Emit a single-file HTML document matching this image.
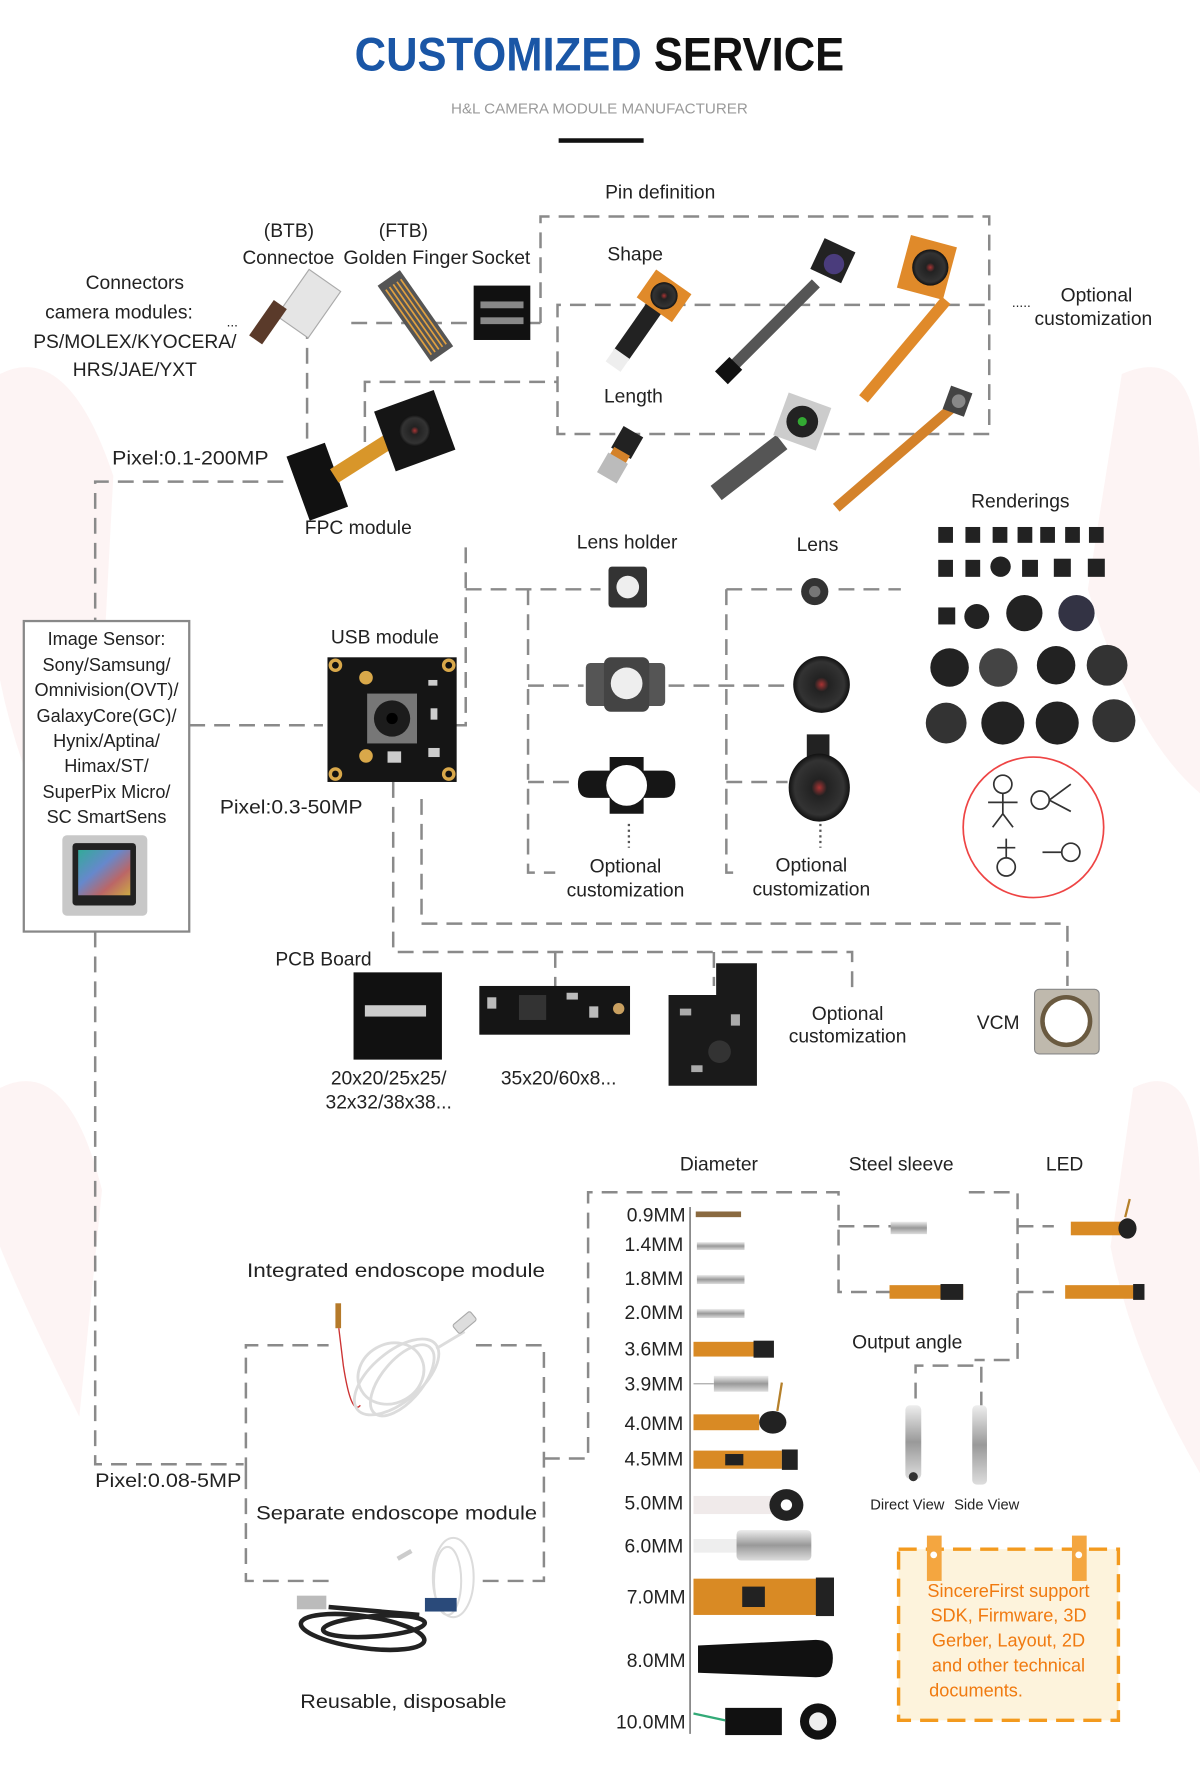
<!DOCTYPE html>
<html><head><meta charset="utf-8"><style>
html,body{margin:0;padding:0;background:#fff;}
svg{display:block;}
text{font-family:"Liberation Sans",sans-serif;fill:#222;}
.d{fill:none;stroke:#8a8a8a;stroke-width:2.2;stroke-dasharray:14 8;}
.s{fill:none;stroke:#8a8a8a;stroke-width:1.6;}
.dot{fill:none;stroke:#555;stroke-width:2;stroke-dasharray:2 3;}
</style></head><body>
<svg width="1200" height="1777" viewBox="0 0 1059 1568" preserveAspectRatio="none" xmlns="http://www.w3.org/2000/svg">
<rect width="1059" height="1568" fill="#fff"/>
<!-- faint background shapes -->
<g fill="#fdf1f1" opacity="0.8">
<path d="M0 330 Q60 300 100 420 L80 800 Q20 700 0 600Z"/>
<path d="M990 330 Q1059 300 1059 420 L1059 700 Q1000 650 960 520Z"/>
<path d="M0 960 Q60 930 90 1050 L70 1250 Q20 1150 0 1100Z"/>
<path d="M1000 960 Q1059 930 1059 1050 L1059 1300 Q1000 1200 980 1100Z"/>
</g>
<!-- title -->
<text x="313" y="62" font-size="42" font-weight="bold" textLength="432" lengthAdjust="spacingAndGlyphs"><tspan fill="#1a56a6" style="fill:#1a56a6">CUSTOMIZED</tspan> <tspan style="fill:#111">SERVICE</tspan></text>
<text x="398" y="100" font-size="13" style="fill:#9a9a9a" textLength="262" lengthAdjust="spacingAndGlyphs">H&amp;L CAMERA MODULE MANUFACTURER</text>
<rect x="493" y="122" width="75" height="4" fill="#111"/>

<!-- dashed connectors -->
<path class="d" d="M477 285 V191 H873 V383 H492 V269 H873"/>
<path class="d" d="M310 285 H477"/>
<path class="d" d="M271 285 V395"/>
<path class="d" d="M322 390 V337 H492"/>
<path class="d" d="M250 425 H84 V548"/>
<path class="d" d="M411 483 V640 H400"/>
<path class="d" d="M167 640 H285"/>
<path class="d" d="M411 520 H530"/>
<path class="d" d="M466 520 V770 H490 M466 605 H515 M466 690 H508"/>
<path class="d" d="M590 605 H700 M641 520 V770 H655 M641 520 H700 M740 520 H795 M641 690 H695"/>
<path class="dot" d="M555 727 V748 M724 727 V748"/>
<path class="d" d="M372 705 V815 H942 V870"/>
<path class="d" d="M347 690 V840 H752 V878 M490 840 V870 M630 840 V870"/>
<path class="d" d="M84 822 V1292 H215"/>
<path class="d" d="M217 1300 V1187 H290 M420 1187 H480 V1395 H420 M290 1395 H217 V1300"/>
<path class="d" d="M480 1287 H519 V1052 H740 V1140 H790 M740 1082 H790 M855 1052 H898 V1200 H860 M898 1082 H930 M898 1140 H930"/>
<path class="d" d="M808 1300 V1205 H866 V1300"/>
<path class="s" d="M609 1065 V1530"/>
<text x="893" y="271" font-size="12">.....</text>

<!-- texts -->
<g font-size="17">
<text x="534" y="175">Pin definition</text>
<text x="255" y="209" text-anchor="middle">(BTB)</text>
<text x="356" y="209" text-anchor="middle">(FTB)</text>
<text x="214" y="233" textLength="81" lengthAdjust="spacingAndGlyphs">Connectoe</text>
<text x="303" y="233" textLength="110" lengthAdjust="spacingAndGlyphs">Golden Finger</text>
<text x="416" y="233" textLength="52" lengthAdjust="spacingAndGlyphs">Socket</text>
<text x="119" y="255" text-anchor="middle">Connectors</text>
<text x="105" y="281" text-anchor="middle">camera modules:</text>
<text x="200" y="288" font-size="12">...</text>
<text x="119" y="307" text-anchor="middle">PS/MOLEX/KYOCERA/</text>
<text x="119" y="332" text-anchor="middle">HRS/JAE/YXT</text>
<text x="536" y="230">Shape</text>
<text x="533" y="355">Length</text>
<text x="936" y="266">Optional</text>
<text x="913" y="287">customization</text>
<text x="99" y="410" textLength="138" lengthAdjust="spacingAndGlyphs">Pixel:0.1-200MP</text>
<text x="269" y="471">FPC module</text>
<text x="857" y="448">Renderings</text>
<text x="509" y="484">Lens holder</text>
<text x="703" y="486">Lens</text>
<text x="292" y="568">USB module</text>
<text x="194" y="718" textLength="126" lengthAdjust="spacingAndGlyphs">Pixel:0.3-50MP</text>
<text x="552" y="770" text-anchor="middle">Optional</text>
<text x="552" y="791" text-anchor="middle">customization</text>
<text x="716" y="769" text-anchor="middle">Optional</text>
<text x="716" y="790" text-anchor="middle">customization</text>
<text x="243" y="852">PCB Board</text>
<text x="343" y="957" text-anchor="middle">20x20/25x25/</text>
<text x="343" y="978" text-anchor="middle">32x32/38x38...</text>
<text x="493" y="957" text-anchor="middle">35x20/60x8...</text>
<text x="748" y="900" text-anchor="middle">Optional</text>
<text x="748" y="920" text-anchor="middle">customization</text>
<text x="862" y="908">VCM</text>
<text x="600" y="1033">Diameter</text>
<text x="749" y="1033">Steel sleeve</text>
<text x="923" y="1033">LED</text>
<text x="218" y="1127" textLength="263" lengthAdjust="spacingAndGlyphs">Integrated endoscope module</text>
<text x="752" y="1190">Output angle</text>
<text x="84" y="1312" textLength="129" lengthAdjust="spacingAndGlyphs">Pixel:0.08-5MP</text>
<text x="226" y="1341" textLength="248" lengthAdjust="spacingAndGlyphs">Separate endoscope module</text>
<text x="265" y="1507" textLength="182" lengthAdjust="spacingAndGlyphs">Reusable, disposable</text>
</g>
<g font-size="13"><text x="768" y="1332">Direct View</text><text x="842" y="1332">Side View</text></g>
<g font-size="17" text-anchor="end">
<text x="605" y="1078">0.9MM</text><text x="603" y="1104">1.4MM</text><text x="603" y="1134">1.8MM</text><text x="603" y="1164">2.0MM</text>
<text x="603" y="1196">3.6MM</text><text x="603" y="1227">3.9MM</text><text x="603" y="1262">4.0MM</text><text x="603" y="1293">4.5MM</text>
<text x="603" y="1332">5.0MM</text><text x="603" y="1370">6.0MM</text><text x="605" y="1415">7.0MM</text><text x="605" y="1471">8.0MM</text><text x="605" y="1525">10.0MM</text>
</g>

<!-- image sensor box -->
<rect x="21" y="548" width="146" height="274" fill="#fff" stroke="#888" stroke-width="2"/>
<g font-size="16" text-anchor="middle">
<text x="94" y="569">Image Sensor:</text><text x="94" y="592">Sony/Samsung/</text><text x="94" y="614">Omnivision(OVT)/</text><text x="94" y="637">GalaxyCore(GC)/</text>
<text x="94" y="659">Hynix/Aptina/</text><text x="94" y="681">Himax/ST/</text><text x="94" y="704">SuperPix Micro/</text><text x="94" y="726">SC SmartSens</text>
</g>
<defs>
<linearGradient id="rb" x1="0" y1="0" x2="1" y2="1"><stop offset="0" stop-color="#3a9"/><stop offset=".4" stop-color="#68c"/><stop offset=".7" stop-color="#b66"/><stop offset="1" stop-color="#ca4"/></linearGradient>
<radialGradient id="ln"><stop offset="0" stop-color="#a33"/><stop offset=".25" stop-color="#222"/><stop offset=".8" stop-color="#333"/><stop offset="1" stop-color="#111"/></radialGradient>
<linearGradient id="mt" x1="0" y1="0" x2="0" y2="1"><stop offset="0" stop-color="#eee"/><stop offset=".5" stop-color="#999"/><stop offset="1" stop-color="#ddd"/></linearGradient>
</defs>
<rect x="55" y="737" width="75" height="71" rx="4" fill="#c8c8c8"/>
<rect x="64" y="744" width="56" height="55" rx="3" fill="#222"/>
<rect x="69" y="750" width="46" height="40" fill="url(#rb)"/>

<!-- connectors photos -->
<g transform="rotate(35 265 275)"><rect x="250" y="240" width="34" height="50" fill="#e5e5e5" stroke="#aaa"/><rect x="240" y="280" width="14" height="38" fill="#5a3a2a"/></g>
<g transform="rotate(-35 366 278)"><rect x="354" y="238" width="24" height="82" fill="#555"/><path d="M358 245 V315 M362 245 V315 M366 245 V315 M370 245 V315 M374 245 V315" stroke="#e0a040" stroke-width="1.5"/></g>
<rect x="418" y="252" width="50" height="48" fill="#111"/><rect x="424" y="266" width="38" height="6" fill="#888"/><rect x="424" y="280" width="38" height="6" fill="#888"/>

<!-- pin def cameras -->
<g transform="rotate(35 568 285)"><rect x="560" y="260" width="16" height="60" fill="#222"/><rect x="550" y="240" width="38" height="30" fill="#e08a2a"/><circle cx="569" cy="255" r="12" fill="url(#ln)"/><rect x="560" y="318" width="16" height="14" fill="#eee"/></g>
<path d="M640 330 L720 250" stroke="#555" stroke-width="10"/><rect x="635" y="318" width="16" height="18" fill="#111" transform="rotate(45 643 327)"/>
<rect x="720" y="215" width="30" height="30" fill="#222" transform="rotate(25 735 230)"/><circle cx="736" cy="233" r="9" fill="#4a3c7c"/>
<path d="M762 352 L835 265" stroke="#e08a2a" stroke-width="10"/>
<rect x="797" y="212" width="42" height="48" fill="#e08a2a" transform="rotate(15 818 236)"/><circle cx="821" cy="236" r="16" fill="url(#ln)"/>
<g transform="rotate(30 548 400)"><rect x="538" y="378" width="20" height="22" fill="#222"/><rect x="540" y="398" width="16" height="8" fill="#d4822a"/><rect x="538" y="405" width="20" height="20" fill="#bbb"/></g>
<path d="M632 435 L690 390" stroke="#555" stroke-width="16"/>
<rect x="688" y="352" width="40" height="40" fill="#ccc" transform="rotate(20 708 372)"/><circle cx="708" cy="372" r="14" fill="#222"/><circle cx="708" cy="372" r="4" fill="#3a3"/>
<path d="M738 448 L840 360" stroke="#d4822a" stroke-width="9"/><rect x="835" y="343" width="20" height="22" fill="#444" transform="rotate(20 845 354)"/><circle cx="846" cy="354" r="6" fill="#888"/>

<!-- FPC module -->
<rect x="262" y="395" width="36" height="60" fill="#111" transform="rotate(-20 280 425)"/>
<path d="M295 420 L350 385" stroke="#d8962a" stroke-width="14"/>
<rect x="338" y="352" width="56" height="56" fill="#151515" transform="rotate(-20 366 380)"/><circle cx="366" cy="380" r="14" fill="url(#ln)"/>

<!-- renderings -->
<g fill="#222">
<rect x="828" y="465" width="13" height="14"/><rect x="852" y="465" width="13" height="14"/><rect x="876" y="465" width="13" height="14"/><rect x="898" y="465" width="13" height="14"/><rect x="918" y="465" width="13" height="14"/><rect x="940" y="465" width="13" height="14"/><rect x="961" y="465" width="13" height="14"/>
<rect x="828" y="494" width="13" height="15"/><rect x="852" y="494" width="13" height="15"/><circle cx="883" cy="500" r="9"/><rect x="902" y="494" width="14" height="15"/><rect x="930" y="493" width="15" height="16"/><rect x="960" y="493" width="15" height="16"/>
<rect x="828" y="536" width="15" height="15"/><circle cx="862" cy="544" r="11"/><circle cx="904" cy="541" r="16"/><circle cx="950" cy="541" r="16" fill="#334"/>
<circle cx="838" cy="589" r="17"/><circle cx="881" cy="589" r="17" fill="#444"/><circle cx="932" cy="587" r="17"/><circle cx="977" cy="587" r="18" fill="#333"/>
<circle cx="835" cy="638" r="18" fill="#333"/><circle cx="885" cy="638" r="19"/><circle cx="933" cy="638" r="19"/><circle cx="983" cy="636" r="19" fill="#333"/>
</g>
<circle cx="912" cy="730" r="62" fill="#fff" stroke="#e44" stroke-width="1.5"/>
<g stroke="#333" fill="none" stroke-width="1.5"><circle cx="885" cy="692" r="8"/><path d="M885 700 V718 M872 708 H898 M885 718 L876 730 M885 718 L894 730"/><circle cx="918" cy="706" r="8"/><path d="M926 706 L945 692 M926 706 L945 716"/><circle cx="888" cy="765" r="8"/><path d="M888 757 V740 M880 748 H896"/><circle cx="945" cy="752" r="8"/><path d="M937 752 H920"/></g>

<!-- lens holders -->
<rect x="537" y="500" width="34" height="36" rx="3" fill="#333"/><circle cx="554" cy="518" r="10" fill="#eee"/>
<rect x="517" y="585" width="70" height="38" rx="4" fill="#555"/><rect x="533" y="580" width="40" height="48" rx="6" fill="#444"/><circle cx="553" cy="603" r="14" fill="#eee"/>
<path d="M520 680 h18 v-12 h30 v12 h18 q10 0 10 12 t-10 12 h-18 v14 h-30 v-14 h-18 q-10 0 -10 -12 t10 -12z" fill="#161616"/><circle cx="553" cy="693" r="18" fill="#fff"/>
<!-- lenses -->
<circle cx="719" cy="522" r="12" fill="#333"/><circle cx="719" cy="522" r="5" fill="#777"/>
<circle cx="725" cy="604" r="25" fill="url(#ln)"/>
<rect x="712" y="648" width="20" height="20" fill="#222"/><ellipse cx="723" cy="695" rx="27" ry="30" fill="url(#ln)"/>

<!-- USB module -->
<rect x="289" y="580" width="114" height="110" fill="#151515"/>
<g fill="#d9a84a"><circle cx="296" cy="587" r="6"/><circle cx="396" cy="587" r="6"/><circle cx="296" cy="683" r="6"/><circle cx="396" cy="683" r="6"/><circle cx="323" cy="598" r="6"/><circle cx="323" cy="667" r="6"/></g>
<g fill="#111"><circle cx="296" cy="587" r="3"/><circle cx="396" cy="587" r="3"/><circle cx="296" cy="683" r="3"/><circle cx="396" cy="683" r="3"/></g>
<rect x="324" y="612" width="44" height="44" fill="#777"/><circle cx="346" cy="634" r="16" fill="#1c1c1c"/><circle cx="346" cy="634" r="5" fill="#000"/>
<g fill="#ccc"><rect x="378" y="600" width="8" height="5"/><rect x="380" y="625" width="6" height="10"/><rect x="378" y="660" width="10" height="8"/><rect x="342" y="663" width="12" height="10"/></g>

<!-- PCB boards -->
<rect x="312" y="858" width="78" height="77" fill="#111"/><rect x="322" y="887" width="54" height="10" fill="#ccc"/>
<rect x="423" y="870" width="133" height="43" fill="#151515"/><rect x="458" y="878" width="24" height="22" fill="#333"/><g fill="#bbb"><rect x="430" y="880" width="8" height="10"/><rect x="500" y="876" width="10" height="6"/><rect x="520" y="888" width="8" height="10"/><circle cx="546" cy="890" r="5" fill="#c9a060"/></g>
<path d="M632 850 H668 V958 H590 V878 H632Z" fill="#1a1a1a"/><circle cx="635" cy="928" r="10" fill="#333"/><g fill="#aaa"><rect x="600" y="890" width="10" height="6"/><rect x="645" y="895" width="8" height="10"/><rect x="610" y="940" width="10" height="6"/></g>
<!-- VCM -->
<rect x="913" y="873" width="57" height="57" rx="4" fill="#bfb9ad" stroke="#888"/><circle cx="941" cy="901" r="23" fill="#6a5a40"/><circle cx="941" cy="901" r="19" fill="#fff"/>

<!-- endoscope integrated -->
<rect x="296" y="1150" width="5" height="22" fill="#b57a2a"/>
<path d="M299 1172 L303 1205 Q310 1250 318 1240" stroke="#c33" stroke-width="1.2" fill="none"/>
<g fill="none" stroke="#dcdcdc" stroke-width="2.5">
<ellipse cx="350" cy="1215" rx="45" ry="22" transform="rotate(-40 350 1215)"/><ellipse cx="355" cy="1218" rx="38" ry="18" transform="rotate(-50 355 1218)"/><ellipse cx="345" cy="1212" rx="30" ry="26" transform="rotate(-30 345 1212)"/>
<path d="M385 1190 L410 1175"/></g>
<rect x="400" y="1162" width="20" height="10" rx="2" fill="#ddd" stroke="#aaa" transform="rotate(-40 410 1167)"/>
<!-- separate -->
<g fill="none" stroke="#dcdcdc" stroke-width="1.8"><ellipse cx="400" cy="1392" rx="18" ry="35"/><ellipse cx="395" cy="1395" rx="12" ry="30"/></g>
<rect x="350" y="1370" width="14" height="4" fill="#ccc" transform="rotate(-30 357 1372)"/>
<g fill="none" stroke="#222" stroke-width="4"><ellipse cx="320" cy="1440" rx="55" ry="14" transform="rotate(8 320 1440)"/><ellipse cx="330" cy="1435" rx="45" ry="9" transform="rotate(-4 330 1435)"/><path d="M290 1418 L370 1425"/></g>
<rect x="262" y="1408" width="26" height="12" fill="#bbb"/><rect x="375" y="1410" width="28" height="12" fill="#2a4a7a"/>

<!-- diameter items -->
<g>
<rect x="614" y="1069" width="40" height="5" fill="#8a6a40"/>
<rect x="615" y="1096" width="42" height="7" fill="url(#mt)"/>
<rect x="615" y="1125" width="42" height="8" fill="url(#mt)"/>
<rect x="615" y="1155" width="42" height="8" fill="url(#mt)"/>
<rect x="612" y="1184" width="60" height="13" fill="#d98a24"/><rect x="665" y="1183" width="18" height="15" fill="#222"/>
<rect x="630" y="1214" width="48" height="14" fill="url(#mt)"/><path d="M612 1221 H630" stroke="#aaa"/>
<rect x="612" y="1248" width="58" height="14" fill="#d98a24"/><ellipse cx="682" cy="1255" rx="12" ry="10" fill="#222"/><path d="M686 1245 L690 1220" stroke="#b5802a" stroke-width="2"/>
<rect x="612" y="1280" width="78" height="16" fill="#d98a24"/><rect x="690" y="1279" width="14" height="18" fill="#222"/><rect x="640" y="1283" width="16" height="10" fill="#222"/>
<rect x="612" y="1320" width="70" height="16" fill="#f0eaea"/><ellipse cx="694" cy="1328" rx="15" ry="14" fill="#222"/><circle cx="694" cy="1328" r="5" fill="#fff"/>
<rect x="612" y="1358" width="40" height="12" fill="#eee"/><rect x="650" y="1350" width="66" height="27" rx="4" fill="url(#mt)"/>
<rect x="612" y="1393" width="110" height="32" fill="#d98a24"/><rect x="655" y="1400" width="20" height="18" fill="#222"/><rect x="720" y="1392" width="16" height="34" fill="#222"/>
<path d="M616 1452 L720 1447 Q735 1447 735 1463 Q735 1480 720 1480 L616 1476Z" fill="#111"/>
<rect x="640" y="1507" width="50" height="24" fill="#111"/><circle cx="722" cy="1519" r="16" fill="#111"/><circle cx="722" cy="1519" r="8" fill="#eee"/><path d="M612 1512 L640 1518" stroke="#3a7" stroke-width="2"/>
</g>
<!-- steel sleeve + LED -->
<rect x="786" y="1078" width="32" height="11" fill="url(#mt)"/>
<rect x="785" y="1134" width="65" height="12" fill="#d98a24"/><rect x="830" y="1133" width="20" height="14" fill="#222"/>
<rect x="945" y="1078" width="50" height="12" fill="#d98a24"/><ellipse cx="995" cy="1084" rx="8" ry="9" fill="#222"/><path d="M993 1074 L997 1058" stroke="#b5802a" stroke-width="2"/>
<rect x="940" y="1134" width="65" height="12" fill="#d98a24"/><rect x="1000" y="1133" width="10" height="14" fill="#222"/>
<!-- direct/side view -->
<rect x="799" y="1240" width="14" height="65" rx="4" fill="url(#mt)"/><circle cx="806" cy="1303" r="4" fill="#333"/>
<rect x="858" y="1240" width="13" height="70" rx="4" fill="url(#mt)"/>

<!-- orange box -->
<rect x="793" y="1367" width="194" height="151" fill="#fdf3dc" stroke="#f39a1e" stroke-width="3" stroke-dasharray="16 8"/>
<rect x="818" y="1355" width="13" height="40" fill="#f4a640"/><rect x="946" y="1355" width="13" height="40" fill="#f4a640"/>
<circle cx="824" cy="1372" r="3" fill="#fff"/><circle cx="952" cy="1372" r="3" fill="#fff"/>
<g font-size="16" text-anchor="middle" style="fill:#f07a10">
<text x="890" y="1409" style="fill:#f07a10">SincereFirst support</text>
<text x="890" y="1431" style="fill:#f07a10">SDK, Firmware, 3D</text>
<text x="890" y="1453" style="fill:#f07a10">Gerber, Layout, 2D</text>
<text x="890" y="1475" style="fill:#f07a10">and other technical</text>
<text x="820" y="1497" text-anchor="start" style="fill:#f07a10">documents.</text>
</g>
</svg>
</body></html>
